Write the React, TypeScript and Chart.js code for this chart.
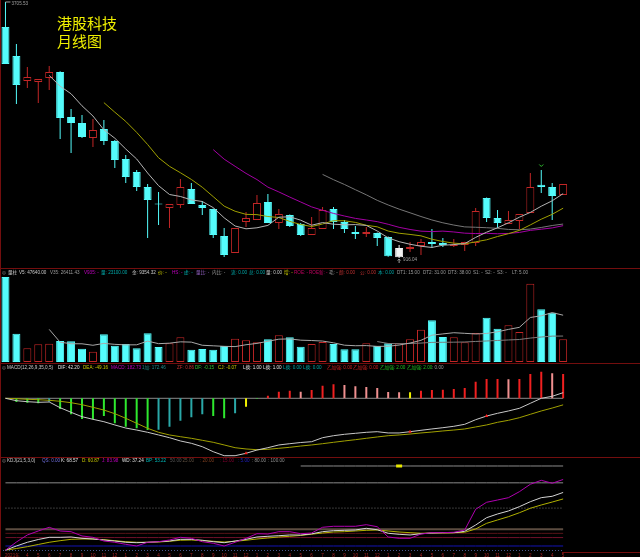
import React, { useEffect, useRef } from "react";
import { Chart, registerables } from "chart.js";

Chart.register(...registerables);

// ---------------- data ----------------
const monthLabels = [
  "2021年", "", "4", "5", "6", "7", "8", "9", "10", "11", "12",
  "1", "2", "3", "4", "5", "6", "7", "8", "9", "10", "11", "12",
  "1", "2", "3", "4", "5", "6", "7", "8", "9", "10", "11", "12",
  "1", "2", "3", "4", "5", "6", "7", "8", "9", "10", "11", "12",
  "1", "2", "3", "4", "5",
];

const openP = [
  3433.1, 3117.1, 2844.7, 2833.8, 2877.4, 2942.8, 2452.5, 2387.1, 2223.7, 2321.7,
  2191.0, 1994.8, 1853.2, 1689.7, 1506.0, 1460.9, 1493.6, 1668.0, 1493.6, 1450.0,
  1155.8, 970.6, 1308.4, 1330.2, 1526.3, 1297.5, 1384.7, 1286.6, 1166.7, 1232.1,
  1450.0, 1308.4, 1199.4, 1177.6, 1188.5, 1144.9, 925.0, 1014.2, 1046.9, 1090.5,
  1079.6, 1046.9, 1057.8, 1079.6, 1569.9, 1352.0, 1286.6, 1319.3, 1406.5, 1715.0,
  1689.7, 1602.6,
];
const highP = [
  3705.53, 3247.9, 2997.3, 2866.5, 3008.2, 2950.0, 2539.6, 2474.3, 2430.7, 2419.8,
  2201.9, 2038.4, 1875.0, 1722.4, 1635.3, 1504.5, 1776.9, 1733.3, 1537.2, 1455.0,
  1243.0, 1243.0, 1417.3, 1602.6, 1613.5, 1450.0, 1390.0, 1297.5, 1362.9, 1471.8,
  1471.8, 1330.2, 1264.8, 1253.9, 1195.0, 1150.0, 1057.8, 1090.5, 1123.2, 1232.1,
  1134.1, 1123.2, 1094.0, 1460.9, 1575.0, 1439.1, 1428.2, 1395.6, 1842.3, 1875.0,
  1733.3, 1722.4,
];
const lowP = [
  3030.0, 2594.1, 2768.5, 2605.0, 2746.7, 2212.8, 2060.2, 2223.7, 2125.6, 2147.4,
  1896.8, 1733.3, 1646.2, 1134.1, 1275.7, 1243.0, 1460.9, 1504.5, 1384.7, 1134.1,
  927.0, 970.6, 1253.9, 1330.2, 1297.5, 1232.1, 1253.9, 1155.8, 1166.7, 1232.1,
  1232.1, 1188.5, 1123.2, 1144.9, 1046.9, 930.0, 916.04, 981.5, 948.8, 1025.1,
  1036.0, 1036.0, 992.4, 1046.9, 1308.4, 1243.0, 1286.6, 1232.1, 1406.5, 1624.4,
  1330.2, 1602.6,
];
const closeP = [
  3030.0, 2801.1, 2888.3, 2866.5, 2942.8, 2441.6, 2387.1, 2234.5, 2310.8, 2191.0,
  1983.9, 1798.7, 1689.7, 1548.1, 1500.0, 1504.5, 1689.7, 1504.5, 1460.9, 1166.7,
  948.8, 1243.0, 1352.0, 1515.4, 1297.5, 1395.6, 1264.8, 1166.7, 1243.0, 1439.1,
  1308.4, 1232.1, 1177.6, 1199.4, 1134.1, 935.0, 1025.0, 1036.0, 1090.5, 1068.7,
  1057.8, 1057.8, 1090.5, 1428.2, 1352.0, 1297.5, 1330.2, 1395.6, 1689.7, 1689.7,
  1591.7, 1722.4,
];

const ma5 = [
  null, null, null, null, 2905.7, 2788.1, 2705.3, 2574.5, 2463.4, 2313.0,
  2221.5, 2103.8, 1994.8, 1842.3, 1704.1, 1608.2, 1586.4, 1549.4, 1531.9, 1465.3,
  1354.1, 1264.8, 1234.3, 1245.2, 1271.3, 1360.7, 1365.1, 1328.0, 1273.5, 1301.8,
  1284.4, 1277.9, 1280.0, 1271.3, 1210.3, 1135.6, 1094.2, 1065.9, 1044.1, 1031.0,
  1055.6, 1062.2, 1073.1, 1140.6, 1197.3, 1245.2, 1299.7, 1360.7, 1413.0, 1480.5,
  1539.4, 1617.8,
];
const ma10 = [
  null, null, null, null, null, null, null, null, null, 2609.4,
  2504.8, 2404.5, 2284.7, 2152.8, 2008.5, 1914.8, 1845.1, 1772.1, 1687.1, 1584.7,
  1481.2, 1425.6, 1391.8, 1388.6, 1368.3, 1357.4, 1314.9, 1281.1, 1259.4, 1286.6,
  1322.6, 1321.5, 1304.0, 1272.4, 1256.1, 1210.0, 1186.0, 1173.0, 1157.7, 1120.7,
  1095.6, 1078.2, 1069.5, 1092.4, 1114.2, 1150.4, 1180.9, 1216.9, 1276.8, 1338.9,
  1392.3, 1458.8,
];
const ma20 = [
  null, null, null, null, null, null, null, null, null, null,
  null, null, null, null, null, null, null, null, null, 2097.0,
  1993.0, 1915.1, 1838.2, 1770.7, 1688.4, 1636.1, 1580.0, 1526.6, 1473.2, 1435.6,
  1401.9, 1373.5, 1347.9, 1330.5, 1312.2, 1283.7, 1250.5, 1227.1, 1208.5, 1203.6,
  1209.1, 1199.8, 1186.8, 1182.4, 1185.1, 1180.2, 1183.5, 1194.9, 1217.3, 1229.8,
  1244.0, 1268.5,
];
const ma30 = [
  null, null, null, null, null, null, null, null, null, null,
  null, null, null, null, null, null, null, null, null, null,
  null, null, null, null, null, null, null, null, null, 1826.9,
  1769.5, 1717.2, 1660.2, 1604.6, 1544.3, 1494.1, 1448.7, 1408.7, 1368.1, 1330.6,
  1299.8, 1275.1, 1255.1, 1251.1, 1246.2, 1239.3, 1227.3, 1223.7, 1231.3, 1248.7,
  1270.2, 1286.1,
];

const volume = [
  86530, 28810, 13950, 18020, 18630, 21380, 21070, 13540, 10490, 28200,
  16590, 18320, 13950, 29220, 15270, 19040, 25140, 12520, 13230, 12520,
  16290, 23720, 22090, 20050, 23110, 27180, 25140, 15580, 18320, 20360,
  18320, 12930, 12930, 19040, 16290, 19040, 19040, 23110, 32880, 42450,
  25450, 25140, 20050, 29520, 45100, 33900, 37360, 30540, 79710, 53650,
  50190, 23100,
];
const volMa5 = [
  null, null, null, null, 33188, 20158, 18610, 18528, 17022, 18936,
  17978, 17428, 17510, 21256, 18670, 19160, 20524, 20238, 17040, 16490,
  15940, 15656, 17570, 18934, 21052, 23230, 23514, 22212, 21866, 21316,
  19544, 17102, 16572, 16716, 15902, 16046, 17268, 19304, 22072, 27304,
  28586, 29806, 29194, 28522, 29052, 30742, 33186, 35284, 45322, 47032,
  50290, 47640,
];
const volMa35 = [
  null, null, null, null, null, null, null, null, null, null,
  null, null, null, null, null, null, null, null, null, null,
  null, null, null, null, null, null, null, null, null, null,
  null, null, null, null, 20793, 18865, 18586, 18848, 19272, 19953,
  20069, 20185, 20371, 20915, 21398, 21893, 22437, 22911, 24353, 25450,
  26340, 26411,
];

const macdHist = [
  0, -28, -33, -37.5, -25.5, -80, -120, -155, -158, -133,
  -188, -213, -225, -238, -236, -213, -168, -143, -120, -133,
  -150, -113, -63, -3, 19.5, 49.5, 57, 49.5, 62, 94.5,
  105, 100, 90, 85, 77, 47, 45, 45, 57, 62,
  64.5, 70, 77, 124.5, 145, 145, 143, 145, 182, 199.5,
  187.5, 182.73,
];
const dif = [
  0, -18, -25.5, -30, -27.8, -70.5, -105, -138, -157.5, -175.5,
  -200, -223, -238, -255, -275, -295.5, -320, -337.5, -363, -400.5,
  -430.5, -430.5, -412.5, -388, -370.5, -350, -340.5, -331.5, -325.5, -295.5,
  -280.5, -270, -262.5, -255, -250.5, -260, -260, -250.5, -240, -230,
  -220.5, -210, -195, -160.5, -133, -112.5, -95, -75, -37.5, 0,
  15, 42.2,
];
const dea = [
  0, -3, -7.5, -10.5, -15, -22.5, -33, -48, -67.5, -88,
  -115.5, -150, -187.5, -225, -255, -275, -288, -300, -315, -330,
  -350, -370.5, -380, -385.5, -382.5, -375, -367.5, -358, -350, -340.5,
  -330, -320, -310.5, -300, -290, -280.5, -275, -268, -260, -253,
  -245, -238, -230, -215, -200, -180, -165, -145.5, -120, -95,
  -73, -49.16,
];
const macdSignalIdx = [22, 37, 44];

const kdjK = [
  0, 5, 9.4, 12.7, 15.3, 15.3, 15.7, 14.1, 13.3, 12.1,
  10.9, 9.4, 8.9, 9.4, 10.1, 10.9, 12.9, 12.9, 11.8, 10.1,
  8.9, 10.9, 12.9, 15.7, 16.5, 17.2, 18.1, 18.0, 19.4, 22.0,
  23.2, 23.6, 24.0, 26.0, 24.3, 20.1, 18.9, 18.1, 19.6, 20.4,
  20.8, 20.8, 22.4, 29.9, 38.6, 43.0, 46.6, 51.7, 57.6, 62.4,
  64.0, 68.57,
];
const kdjD = [
  0, 2, 4.2, 6.8, 9.4, 11.3, 12.9, 13.3, 13.3, 12.5,
  11.3, 10.1, 9.4, 9.4, 9.7, 10.6, 11.8, 12.1, 11.3, 10.6,
  9.7, 10.6, 11.8, 13.3, 14.5, 15.7, 16.5, 17.5, 19.0, 20.4,
  21.6, 22.0, 22.8, 23.6, 24.0, 22.8, 21.6, 20.8, 20.1, 20.4,
  20.4, 20.8, 21.3, 25.2, 31.9, 35.9, 39.8, 44.5, 49.8, 53.7,
  57.2, 60.87,
];
const kdjJ = [
  0, 9.7, 18.1, 22.8, 27.2, 22.8, 22.0, 16.9, 15.3, 10.9,
  9.4, 7.0, 5.0, 9.4, 10.1, 12.1, 15.3, 14.1, 10.1, 8.2,
  5.0, 9.4, 14.1, 19.6, 19.2, 22.0, 22.0, 19.6, 20.4, 27.2,
  28.4, 28.4, 28.4, 30.3, 27.9, 15.7, 14.1, 14.1, 19.2, 20.8,
  20.8, 21.3, 24.0, 48.6, 56.9, 59.6, 62.4, 69.5, 78.3, 83.0,
  79.5, 83.98,
];
const kdjSignalIdx = 36;
const kdjSignalLevel = 100;
const kdjLevels = [100, 80, 50, 25, 20, 15, 5];
const kdjTopLevelStart = 27;

const titleLines = ["港股科技", "月线图"];
const highlightIndex = 36;

// ---------------- styles ----------------
const CYAN = "#54FCFC";
const RED = "#C22626";
const WHITE = "#F2F2F2";
const BORDER = "#730E0E";
const SMALL_FONT = "4.6px 'Liberation Sans', 'DejaVu Sans', 'Noto Sans CJK SC', sans-serif";
const PAD_RIGHT = 71.4;

const macdColorCodes = "-GGGTGGGGGGGGGTTTTTGGTYGRRRPRRRPPPPPPYRRRRRRRRPRRRPR";
const macdPalette: any = { G: "#2EE82E", T: "#2AA8A8", Y: "#F0F000", R: "#F02020", P: "#F09090", "-": "#000" };
const levelStyles: any = {
  100: { c: "#8a8a8a", w: 1 },
  80: { c: "#8a8a8a", w: 1 },
  50: { c: "#707070", w: 1, dash: [1, 2] },
  25: { c: "#5c4c40", w: 2 },
  20: { c: "#581418", w: 1 },
  15: { c: "#70122a", w: 1 },
  5: { c: "#1414b4", w: 1 },
};

type Seg = [number, string, string];
const volHeader: Seg[] = [
  [2, "◎", "#9a9a9a"], [8, "量柱", "#c8c8c8"], [19, "V5: 47640.00", "#c8c8c8"],
  [50, "V35: 26411.43", "#9a9a9a"], [84, "V935: -", "#c000c0"], [101, "量: 23100.00", "#00a8a8"],
  [132, "金: 9354.32", "#c8c8c8"], [158, "价: -", "#c8c800"], [172, "HS: -", "#c000c0"],
  [184, "虚: -", "#00a8a8"], [196, "量比: -", "#9060c0"], [212, "内比: -", "#9a9a9a"],
  [231, "流: 0.00", "#00a8a8"], [249, "总: 0.00", "#00a8a8"], [266, "量: 0.00", "#c8c8c8"],
  [284, "增: -", "#c8c800"], [294, "ROE: -", "#c00060"], [309, "ROE新: -", "#c00060"],
  [329, "毛: -", "#9a9a9a"], [339, "颜: 0.00", "#c03030"], [360, "公: 0.00", "#c03030"],
  [378, "本: 0.00", "#00a8a8"], [397, "DT1: 15.00", "#9a9a9a"], [423, "DT2: 31.00", "#9a9a9a"],
  [448, "DT3: 38.00", "#9a9a9a"], [473, "S1: -", "#9a9a9a"], [485, "S2: -", "#9a9a9a"],
  [497, "S3: -", "#9a9a9a"], [512, "LT: 5.00", "#9a9a9a"],
];
const macdHeader: Seg[] = [
  [2, "◎", "#9a9a9a"], [7, "MACD(12,26,9,35,0,5)", "#c8c8c8"], [58, "DIF: 42.20", "#e0e0e0"],
  [83, "DEA: -49.16", "#c8c800"], [111, "MACD: 182.73", "#c000c0"], [142, "1加: 172.46", "#208888"],
  [177, "ZF: 0.86", "#c03030"], [195, "DF: -0.15", "#30c030"], [218, "CJ: -0.07", "#c8c800"],
  [243, "L换: 1.00", "#e0e0e0"], [263, "L换: 1.00", "#e0e0e0"], [283, "L换: 0.00", "#00a8a8"],
  [303, "L换: 0.00", "#00a8a8"], [327, "乙加强: 0.00", "#d02020"], [353, "乙加强: 0.00", "#d02020"],
  [380, "乙加强: 2.00", "#20c020"], [407, "乙加强: 2.00", "#20c020"], [432, ": 0.00", "#9a9a9a"],
];
const kdjHeader: Seg[] = [
  [2, "◎", "#9a9a9a"], [7, "KDJ(21,5,3,0)", "#c8c8c8"], [42, "QS: 0.00", "#7070e0"],
  [61, "K: 68.57", "#e0e0e0"], [82, "D: 60.87", "#c8c800"], [102, "J: 83.98", "#c000c0"],
  [122, "WD: 37.24", "#e0e0e0"], [146, "BP: 53.22", "#00b8b8"], [170, "50.00", "#555555"],
  [180, ": 25.00", "#605040"], [200, ": 20.00", "#804020"], [220, ": 15.00", "#800030"],
  [238, ": 5.00", "#2020c0"], [252, ": 80.00", "#909090"], [268, ": 100.00", "#909090"],
];

// ---------------- helpers ----------------
const isUp = (i: number) => closeP[i] > openP[i];
const candleColor = (i: number) => (i === highlightIndex ? WHITE : isUp(i) ? RED : CYAN);
const argMax = (a: number[]) => a.reduce((b, v, i) => (v > a[b] ? i : b), 0);
const argMin = (a: number[]) => a.reduce((b, v, i) => (v < a[b] ? i : b), 0);

function drawSegs(ctx: any, segs: Seg[], y: number) {
  ctx.save();
  ctx.font = SMALL_FONT;
  ctx.textBaseline = "middle";
  ctx.textAlign = "left";
  for (const [x, t, c] of segs) {
    ctx.fillStyle = c;
    ctx.fillText(t, x, y);
  }
  ctx.restore();
}

function lineDs(data: any[], color: string, order = 0, extra: any = {}) {
  return { type: "line", data, borderColor: color, borderWidth: 1, pointRadius: 0, tension: 0, fill: false, order, ...extra };
}

function baseOptions(yMin: number, yMax: number, padBottom = 0) {
  return {
    animation: false,
    responsive: false,
    maintainAspectRatio: false,
    devicePixelRatio: 1,
    events: [],
    layout: { autoPadding: false, padding: { left: 0, right: PAD_RIGHT, top: 0, bottom: padBottom } },
    plugins: { legend: { display: false }, tooltip: { enabled: false } },
    scales: {
      x: { type: "category", display: false, offset: true, grid: { display: false } },
      y: { type: "linear", display: false, min: yMin, max: yMax },
    },
  };
}

// ---------------- plugins ----------------
const pricePlugin = {
  id: "priceDecor",
  afterDraw(chart: any) {
    const { ctx } = chart;
    const x = chart.scales.x;
    const y = chart.scales.y;
    ctx.save();
    ctx.font = "15px 'Noto Sans CJK SC', sans-serif";
    ctx.fillStyle = "#F0F000";
    ctx.textBaseline = "middle";
    ctx.fillText(titleLines[0], 57, 23.5);
    ctx.fillText(titleLines[1], 57, 41.5);

    const hi = argMax(highP);
    const hx = x.getPixelForValue(hi);
    const hy = y.getPixelForValue(highP[hi]);
    ctx.strokeStyle = "#a0a0a0";
    ctx.lineWidth = 1;
    ctx.beginPath();
    ctx.moveTo(hx, Math.max(hy, 0.5));
    ctx.lineTo(hx + 5, Math.max(hy, 0.5));
    ctx.stroke();
    ctx.font = SMALL_FONT;
    ctx.fillStyle = "#a0a0a0";
    ctx.fillText(highP[hi].toFixed(2), hx + 6, hy + 1.5);

    const lo = argMin(lowP);
    const lx = x.getPixelForValue(lo);
    const ly = y.getPixelForValue(lowP[lo]);
    ctx.beginPath();
    ctx.moveTo(lx, ly + 5);
    ctx.lineTo(lx, ly + 1);
    ctx.moveTo(lx - 1.5, ly + 2.5);
    ctx.lineTo(lx, ly + 1);
    ctx.lineTo(lx + 1.5, ly + 2.5);
    ctx.stroke();
    ctx.fillText(lowP[lo].toFixed(2), lx + 4, ly + 2);

    let topAfter = lo + 1;
    for (let i = lo + 1; i < highP.length; i++) if (highP[i] > highP[topAfter]) topAfter = i;
    const gx = x.getPixelForValue(topAfter);
    const gy = y.getPixelForValue(highP[topAfter]);
    ctx.strokeStyle = "#30c030";
    ctx.beginPath();
    ctx.moveTo(gx - 2, gy - 5.5);
    ctx.lineTo(gx, gy - 3.5);
    ctx.lineTo(gx + 2, gy - 5.5);
    ctx.stroke();
    ctx.restore();
  },
};

const volPlugin = { id: "volDecor", afterDraw(chart: any) { drawSegs(chart.ctx, volHeader, 4); } };
const macdPlugin = { id: "macdDecor", afterDraw(chart: any) { drawSegs(chart.ctx, macdHeader, 5); } };
const kdjPlugin = {
  id: "kdjDecor",
  afterDraw(chart: any) {
    const { ctx } = chart;
    const x = chart.scales.x;
    drawSegs(ctx, kdjHeader, 3);
    ctx.save();
    ctx.strokeStyle = "#4a5a8c";
    ctx.lineWidth = 1;
    ctx.setLineDash([1, 2]);
    ctx.beginPath();
    ctx.moveTo(0, 92.5);
    ctx.lineTo(x.getPixelForValue(monthLabels.length - 1), 92.5);
    ctx.stroke();
    ctx.setLineDash([]);
    ctx.font = SMALL_FONT;
    ctx.fillStyle = "#A82222";
    ctx.textBaseline = "top";
    monthLabels.forEach((lab, i) => {
      if (!lab) return;
      const px = x.getPixelForValue(i);
      if (i === 0) {
        ctx.textAlign = "left";
        ctx.fillText(lab, px - 0.5, 95);
      } else {
        ctx.textAlign = "center";
        ctx.fillText(lab, px, 95);
      }
    });
    ctx.restore();
  },
};

// ---------------- component ----------------
export default function App() {
  const priceRef = useRef<HTMLCanvasElement>(null);
  const volRef = useRef<HTMLCanvasElement>(null);
  const macdRef = useRef<HTMLCanvasElement>(null);
  const kdjRef = useRef<HTMLCanvasElement>(null);

  useEffect(() => {
    document.body.style.margin = "0";
    document.body.style.background = "#000";
    const idx = monthLabels.map((_, i) => i);
    const charts: any[] = [];

    const bodyData = idx.map((i) => [Math.min(openP[i], closeP[i]), Math.max(openP[i], closeP[i])]);
    const wickData = idx.map((i) => [lowP[i], highP[i]]);
    charts.push(
      new Chart(priceRef.current as any, {
        type: "bar",
        data: {
          labels: monthLabels,
          datasets: [
            lineDs(ma5, "#B4B4B4", 0),
            lineDs(ma10, "#A0A000", 0),
            lineDs(ma20, "#A400A4", 0),
            lineDs(ma30, "#767676", 0),
            {
              type: "bar", data: bodyData,
              backgroundColor: idx.map((i) => (i === highlightIndex ? WHITE : isUp(i) ? "#000000" : CYAN)),
              borderColor: idx.map((i) => candleColor(i)),
              borderWidth: 1, borderSkipped: false, barThickness: 8, grouped: false,
              minBarLength: 1, inflateAmount: 0, order: 1,
            },
            {
              type: "bar", data: wickData,
              backgroundColor: idx.map((i) => candleColor(i)),
              borderWidth: 0, barThickness: 1, grouped: false, inflateAmount: 0, order: 2,
            },
          ] as any,
        },
        options: baseOptions(796.3, 3727.3) as any,
        plugins: [pricePlugin],
      })
    );

    charts.push(
      new Chart(volRef.current as any, {
        type: "bar",
        data: {
          labels: monthLabels,
          datasets: [
            lineDs(volMa5, "#A8A8A8", 0),
            lineDs(volMa35, "#7C7C7C", 0),
            {
              type: "bar", data: volume,
              backgroundColor: idx.map((i) => (isUp(i) ? "#000000" : CYAN)),
              borderColor: idx.map((i) => (isUp(i) ? RED : CYAN)),
              borderWidth: 1, borderSkipped: false, barThickness: 8, grouped: false,
              inflateAmount: 0, order: 1,
            },
          ] as any,
        },
        options: baseOptions(0, 94674, 1) as any,
        plugins: [volPlugin],
      })
    );

    const zeroLine = idx.map(() => 0);
    const macdMarks = idx.map((i) => (macdSignalIdx.includes(i) ? dif[i] : null));
    charts.push(
      new Chart(macdRef.current as any, {
        type: "bar",
        data: {
          labels: monthLabels,
          datasets: [
            {
              type: "line", data: macdMarks, showLine: false, pointStyle: "triangle",
              pointRadius: 2, pointBackgroundColor: "#FF2020", pointBorderColor: "#FF2020",
              pointBorderWidth: 0, order: -1,
            },
            lineDs(dif, "#C8C8C8", 0),
            lineDs(dea, "#A0A000", 1),
            {
              type: "bar", data: macdHist,
              backgroundColor: idx.map((i) => macdPalette[macdColorCodes[i]]),
              borderWidth: 0, barThickness: 2, grouped: false, inflateAmount: 0, order: 2,
            },
            lineDs(zeroLine, "#8A8A8A", 3),
          ] as any,
        },
        options: baseOptions(-447.75, 264.75) as any,
        plugins: [macdPlugin],
      })
    );

    const levelSets = kdjLevels.map((lv) => {
      const st = levelStyles[lv];
      return lineDs(
        idx.map((i) => (lv === 100 && i < kdjTopLevelStart ? null : lv)),
        st.c, 10, { borderWidth: st.w, borderDash: st.dash || [] }
      );
    });
    const kdjMark = idx.map((i) => (i === kdjSignalIdx ? kdjSignalLevel : null));
    charts.push(
      new Chart(kdjRef.current as any, {
        type: "line",
        data: {
          labels: monthLabels,
          datasets: [
            {
              type: "line", data: kdjMark, showLine: false, pointStyle: "line",
              pointRadius: 3, pointBorderWidth: 3, pointBorderColor: "#E8E800", order: -1,
            },
            lineDs(kdjD, "#B0B000", 2),
            lineDs(kdjK, "#D4D4D4", 1),
            lineDs(kdjJ, "#B000B0", 0),
            ...levelSets,
          ] as any,
        },
        options: baseOptions(-8.08, 109.5) as any,
        plugins: [kdjPlugin],
      })
    );

    return () => charts.forEach((c) => c.destroy());
  }, []);

  const abs = (top: number, h: number): any => ({ position: "absolute", left: 0, top, width: 640, height: h });
  return (
    <div style={{ position: "fixed", left: 0, top: 0, width: 640, height: 557, background: "#000", overflow: "hidden" }}>
      <canvas ref={priceRef} width={640} height={269} style={abs(0, 269)} />
      <canvas ref={volRef} width={640} height={94} style={abs(269, 94)} />
      <canvas ref={macdRef} width={640} height={95} style={abs(363, 95)} />
      <canvas ref={kdjRef} width={640} height={99} style={abs(458, 99)} />
      <div style={{ position: "absolute", left: 0, top: 268, width: 640, height: 1, background: BORDER }} />
      <div style={{ position: "absolute", left: 0, top: 363, width: 640, height: 1, background: BORDER }} />
      <div style={{ position: "absolute", left: 0, top: 457, width: 640, height: 1, background: BORDER }} />
      <div style={{ position: "absolute", left: 562, top: 552, width: 78, height: 1, background: BORDER }} />
      <div style={{ position: "absolute", left: 0, top: 0, width: 1, height: 557, background: BORDER }} />
    </div>
  );
}
